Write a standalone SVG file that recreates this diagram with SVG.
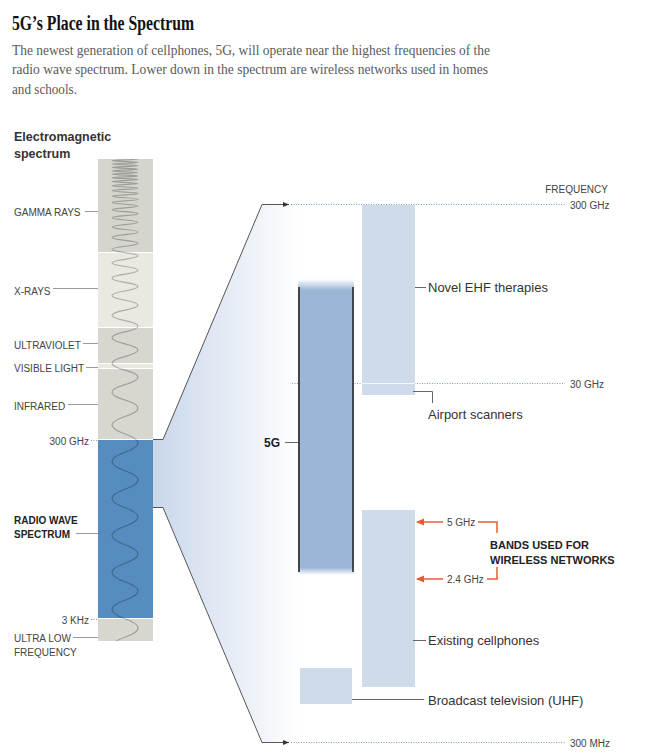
<svg xmlns="http://www.w3.org/2000/svg" width="645" height="753" viewBox="0 0 645 753">
<style>
.title{font-family:"Liberation Serif",serif;font-weight:bold;font-size:20px;fill:#121212}
.desc{font-family:"Liberation Serif",serif;font-size:14.5px;fill:#5a5a5a}
.lab{font-family:"Liberation Sans",Arial,sans-serif;font-size:10px;fill:#444}
.labb{font-family:"Liberation Sans",Arial,sans-serif;font-size:10px;font-weight:bold;fill:#222}
.head{font-family:"Liberation Sans",Arial,sans-serif;font-size:12.5px;font-weight:bold;fill:#333}
.rl{font-family:"Liberation Sans",Arial,sans-serif;font-size:13px;fill:#333}
.bnd{font-family:"Liberation Sans",Arial,sans-serif;font-size:11px;font-weight:bold;fill:#222}
.lead{stroke:#9a9a9a;stroke-width:1;fill:none}
.leadd{stroke:#666;stroke-width:1;fill:none}
.dot{stroke:#7f9cbd;stroke-width:1;stroke-dasharray:1 1.5;fill:none}
.dotg{stroke:#999;stroke-width:1;stroke-dasharray:1 1.5;fill:none}
.sec{stroke:none}
.band{fill:#cfdbea}
.red{stroke:#ec5a33;stroke-width:1.5;fill:none}
</style>
<defs>
<linearGradient id="lens" x1="153" y1="0" x2="300" y2="0" gradientUnits="userSpaceOnUse">
<stop offset="0" stop-color="#c9d7ea"/>
<stop offset="1" stop-color="#ffffff"/>
</linearGradient>
<linearGradient id="g5" x1="0" y1="0" x2="0" y2="1">
<stop offset="0" stop-color="#9cb7d5" stop-opacity="0"/>
<stop offset="0.037" stop-color="#9cb7d5"/>
<stop offset="0.975" stop-color="#9cb7d5"/>
<stop offset="1" stop-color="#9cb7d5" stop-opacity="0"/>
</linearGradient>
<clipPath id="barclip"><rect x="98" y="159" width="55" height="482"/></clipPath>
<marker id="ak" viewBox="0 0 6 6" refX="6" refY="3" markerWidth="6" markerHeight="6" markerUnits="userSpaceOnUse" orient="auto"><path d="M0,0.5 L6,3 L0,5.5 z" fill="#333"/></marker>
<marker id="ar" viewBox="0 0 8 8" refX="7" refY="4" markerWidth="8" markerHeight="8" markerUnits="userSpaceOnUse" orient="auto"><path d="M0,0.5 L8,4 L0,7.5 z" fill="#ec5a33"/></marker>
</defs>

<g id="header">
<text class="title" x="12" y="30" textLength="182" lengthAdjust="spacingAndGlyphs">5G’s Place in the Spectrum</text>
<text class="desc" x="12" y="54.5" textLength="478" lengthAdjust="spacingAndGlyphs">The newest generation of cellphones, 5G, will operate near the highest frequencies of the</text>
<text class="desc" x="12" y="74" textLength="476" lengthAdjust="spacingAndGlyphs">radio wave spectrum. Lower down in the spectrum are wireless networks used in homes</text>
<text class="desc" x="12" y="93.5" textLength="65" lengthAdjust="spacingAndGlyphs">and schools.</text>
</g>

<g id="lens-fill">
<polygon points="153,439 163,439 262,204.5 300,204.5 300,742 262,742 163,507 153,507" fill="url(#lens)"/>
</g>

<g id="spectrum-bar">
<text class="head" x="14" y="141">Electromagnetic</text>
<text class="head" x="14" y="158">spectrum</text>
<rect class="sec" x="98" y="159" width="55" height="93" fill="#d5d5ce"/>
<rect class="sec" x="98" y="253" width="55" height="74" fill="#e9e9e2"/>
<rect class="sec" x="98" y="328" width="55" height="35" fill="#d7d7d0"/>
<rect class="sec" x="98" y="364" width="55" height="4" fill="#e9e9e2"/>
<rect class="sec" x="98" y="369" width="55" height="70" fill="#d7d7d0"/>
<rect class="sec" x="98" y="440" width="55" height="178" fill="#568cbf"/>
<rect class="sec" x="98" y="619" width="55" height="22" fill="#d7d7d0"/>
<path clip-path="url(#barclip)" fill="none" stroke="#000" stroke-opacity="0.26" stroke-width="1.2" d="M125,655 Q99,646.5 125,637.25 Q151,628 125,618.75 Q99,609.5 125,600.25 Q151,591 125,581.75 Q99,572.5 125,563.25 Q151,554 125,544.75 Q99,535.5 125,526.25 Q151,517 125,507.75 Q99,498.5 125,489.25 Q151,480 125,470.75 Q99,461.5 125,452.25 Q151,443 125,433.95 Q99,424.9 125,416.45 Q151,408 125,400.05 Q99,392.1 125,384.6 Q151,377.1 125,370.1 Q99,363.1 125,356.55 Q151,350 125,343.8 Q99,337.6 125,331.85 Q151,326.1 125,320.65 Q99,315.2 125,310.1 Q151,305 125,300.25 Q99,295.5 125,291 Q151,286.5 125,282.3 Q99,278.1 125,274.15 Q151,270.2 125,266.5 Q99,262.8 125,259.3 Q151,255.8 125,252.55 Q99,249.3 125,246.25 Q151,243.2 125,240.3 Q99,237.4 125,234.7 Q151,232 125,229.5 Q99,227 125,224.6 Q151,222.2 125,220 Q99,217.8 125,215.7 Q151,213.6 125,211.65 Q99,209.7 125,207.85 Q151,206 125,204.25 Q99,202.5 125,200.9 Q151,199.3 125,197.75 Q99,196.2 125,194.8 Q151,193.4 125,192.05 Q99,190.7 125,189.45 Q151,188.2 125,187 Q99,185.8 125,184.7 Q151,183.6 125,182.55 Q99,181.5 125,180.55 Q151,179.6 125,178.7 Q99,177.8 125,176.9 Q151,176 125,175.15 Q99,174.3 125,173.45 Q151,172.6 125,171.75 Q99,170.9 125,170.05 Q151,169.2 125,168.35 Q99,167.5 125,166.65 Q151,165.8 125,164.95 Q99,164.1 125,163.25 Q151,162.4 125,161.55 Q99,160.7 125,159.85 Q151,159 125,158.15 Q99,157.3 125,155.6"/>
</g>

<g id="bar-labels">
<text class="lab" x="14" y="216">GAMMA RAYS</text>
<path class="lead" d="M85,211.5 H98"/>
<text class="lab" x="14" y="295">X-RAYS</text>
<path class="lead" d="M53,288.5 H98"/>
<text class="lab" x="14" y="348.5">ULTRAVIOLET</text>
<path class="lead" d="M83,343.5 H98"/>
<text class="lab" x="14" y="371.5">VISIBLE LIGHT</text>
<path class="lead" d="M86,367.5 H98"/>
<text class="lab" x="14" y="409.5">INFRARED</text>
<path class="lead" d="M68,404.5 H98"/>
<text class="lab" x="89" y="445" text-anchor="end">300 GHz</text>
<path class="dotg" d="M91,440.5 H97"/>
<text class="labb" x="14" y="524">RADIO WAVE</text>
<text class="labb" x="14" y="538">SPECTRUM</text>
<path class="lead" d="M76,533.5 H98" stroke="#666"/>
<text class="lab" x="89" y="623.5" text-anchor="end">3 KHz</text>
<path class="dotg" d="M91,619.5 H97"/>
<text class="lab" x="14" y="641.5">ULTRA LOW</text>
<text class="lab" x="14" y="656">FREQUENCY</text>
<path class="lead" d="M73,637.5 H98"/>
</g>

<g id="frequency-scale">
<text class="lab" x="608" y="192.5" text-anchor="end">FREQUENCY</text>
<path class="dot" d="M291,204.5 H565"/>
<text class="lab" x="570" y="209">300 GHz</text>
<path class="dot" d="M292,383.5 H565"/>
<text class="lab" x="570" y="388">30 GHz</text>
<path class="dot" d="M291,742.5 H565"/>
<text class="lab" x="570" y="746.5">300 MHz</text>
</g>

<g id="band-5g">
<rect x="298" y="279" width="56" height="296" fill="url(#g5)"/>
<path d="M299,287 V572 M353,287 V572" stroke="#222" stroke-width="1.5" fill="none"/>
<text x="280" y="447" text-anchor="end" font-family="Liberation Sans, Arial, sans-serif" font-size="12px" font-weight="bold" fill="#222">5G</text>
<path class="leadd" d="M285,442.5 H298"/>
</g>

<g id="band-ehf">
<rect class="band" x="362" y="205" width="53" height="190"/>
<path d="M362,383.5 H415" stroke="#ffffff" stroke-width="1" opacity="0.8"/>
<path class="leadd" d="M415,287.5 H426"/>
<text class="rl" x="428" y="292">Novel EHF therapies</text>
</g>

<g id="band-airport">
<path class="leadd" d="M413,391.5 H432.5 V403"/>
<text class="rl" x="428" y="418.5">Airport scanners</text>
</g>

<g id="band-cell">
<rect class="band" x="362" y="510" width="53" height="177"/>
<path class="leadd" d="M413,640.5 H426"/>
<text class="rl" x="428" y="645">Existing cellphones</text>
</g>

<g id="band-uhf">
<rect class="band" x="300" y="668" width="52" height="36"/>
<path class="leadd" d="M352,699.5 H424"/>
<text class="rl" x="428" y="704.5">Broadcast television (UHF)</text>
</g>

<g id="wireless">
<text class="lab" x="447" y="525.5">5 GHz</text>
<text class="lab" x="447" y="583">2.4 GHz</text>
<text class="bnd" x="490" y="549">BANDS USED FOR</text>
<text class="bnd" x="490" y="563.5">WIRELESS NETWORKS</text>
</g>

<g id="connectors">
<path d="M153,439.5 H163 L262,204.5 H289" fill="none" stroke="#555" stroke-width="1" marker-end="url(#ak)"/>
<path d="M153,507.5 H163 L262,742.5 H289" fill="none" stroke="#555" stroke-width="1" marker-end="url(#ak)"/>
<path class="red" d="M443,522 H417" marker-end="url(#ar)"/>
<path class="red" d="M443,579 H417" marker-end="url(#ar)"/>
<path class="red" d="M478,522 H497 V533"/>
<path class="red" d="M487,579 H497 V567"/>
</g>
</svg>
